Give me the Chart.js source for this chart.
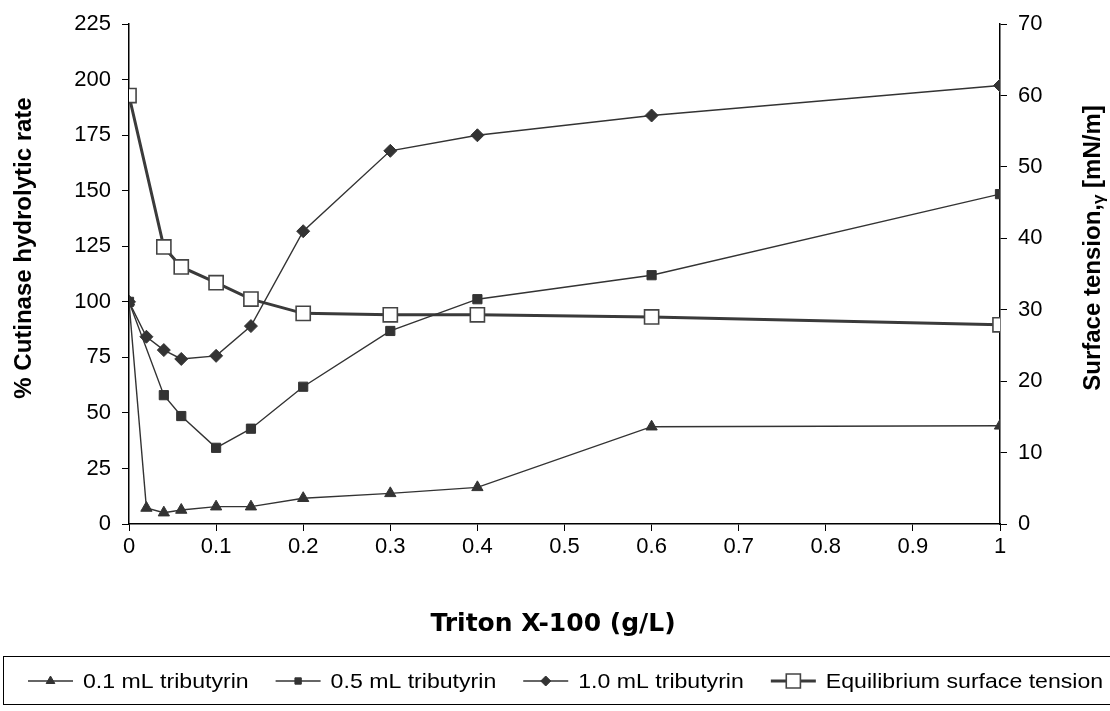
<!DOCTYPE html>
<html>
<head>
<meta charset="utf-8">
<script src="https://cdn.jsdelivr.net/npm/chart.js@4"></script>
<style>
  html, body { margin: 0; padding: 0; background: #fff; }
  #wrap { width: 1110px; height: 711px; }
</style>
</head>
<body>
<div id="wrap"><canvas id="canvas" width="1110" height="711"></canvas></div>
<script>
// Triton X-100 concentration (g/L) for each series
var conc01 = [0, 0.02, 0.04, 0.06, 0.1, 0.14, 0.2, 0.3, 0.4, 0.6, 1];
var rate01 = [100, 7.2, 5.1, 6.3, 7.8, 7.8, 11.6, 13.8, 16.5, 43.8, 44.2];

var conc05 = [0, 0.04, 0.06, 0.1, 0.14, 0.2, 0.3, 0.4, 0.6, 1];
var rate05 = [100, 58, 48.6, 34.3, 42.9, 61.8, 86.9, 101.2, 112, 148.5];

var conc10 = [0, 0.02, 0.04, 0.06, 0.1, 0.14, 0.2, 0.3, 0.4, 0.6, 1];
var rate10 = [100, 84.3, 78.3, 74.3, 75.7, 89.1, 131.8, 168, 175, 183.9, 197.4];

var concST = [0, 0.04, 0.06, 0.1, 0.14, 0.2, 0.3, 0.4, 0.6, 1];
var tension = [60, 38.8, 36.0, 33.8, 31.5, 29.5, 29.3, 29.3, 29.0, 27.9];

var seriesNames = ['0.1 mL tributyrin', '0.5 mL tributyrin', '1.0 mL tributyrin', 'Equilibrium surface tension'];
var xTitle = 'Triton X-100 (g/L)';
var yTitle = '% Cutinase hydrolytic rate';

function pairs(xs, ys) {
    return xs.map(function (x, i) { return { x: x, y: ys[i] }; });
}

var ink = '#333333';
var font = '"Liberation Sans", Arial, sans-serif';

// axis titles + legend drawn on the canvas
var extras = {
    id: 'extras',
    afterDraw: function (chart) {
        var ctx = chart.ctx;
        var cy = 248;

        // left title
        ctx.save();
        ctx.translate(24, cy);
        ctx.rotate(-Math.PI / 2);
        ctx.fillStyle = '#000';
        ctx.textBaseline = 'middle';
        ctx.textAlign = 'center';
        ctx.font = 'bold 24px ' + font;
        ctx.fillText(yTitle, 0, 0);
        ctx.restore();

        // right title, reads bottom to top, gamma as subscript
        ctx.save();
        ctx.translate(1093, cy);
        ctx.rotate(-Math.PI / 2);
        ctx.fillStyle = '#000';
        ctx.textBaseline = 'middle';
        ctx.textAlign = 'left';
        var a = 'Surface tension,', b = '\u03B3', c = ' [mN/m]';
        ctx.font = 'bold 24px ' + font;
        var wa = ctx.measureText(a).width;
        var wc = ctx.measureText(c).width;
        ctx.font = 'bold 17px ' + font;
        var wb = ctx.measureText(b).width;
        var sx = -(wa + wb + wc) / 2;
        ctx.font = 'bold 24px ' + font;
        ctx.fillText(a, sx, 0);
        ctx.font = 'bold 17px ' + font;
        ctx.fillText(b, sx + wa, 6);
        ctx.font = 'bold 24px ' + font;
        ctx.fillText(c, sx + wa + wb, 0);
        ctx.restore();

        // x title
        ctx.save();
        ctx.fillStyle = '#000';
        ctx.textBaseline = 'alphabetic';
        ctx.textAlign = 'center';
        ctx.font = 'bold 25px "DejaVu Sans", Verdana, sans-serif';
        ctx.fillText(xTitle, 553, 631);
        ctx.restore();

        // legend box
        ctx.save();
        ctx.strokeStyle = '#000';
        ctx.lineWidth = 1;
        ctx.strokeRect(3.5, 656.5, 1120, 48);
        ctx.font = '21px ' + font;
        ctx.textBaseline = 'middle';
        ctx.textAlign = 'left';
        var lx = 28, ly = 681, stretch = 1.1;
        chart.data.datasets.forEach(function (ds) {
            ctx.strokeStyle = ds.borderColor;
            ctx.lineWidth = ds.borderWidth;
            ctx.beginPath();
            ctx.moveTo(lx, ly);
            ctx.lineTo(lx + 45, ly);
            ctx.stroke();
            ctx.fillStyle = ds.pointBackgroundColor;
            ctx.strokeStyle = ds.pointBorderColor;
            ctx.lineWidth = ds.pointBorderWidth;
            Chart.helpers.drawPoint(ctx, { pointStyle: ds.pointStyle, radius: ds.legendRadius, rotation: 0, borderWidth: ds.pointBorderWidth }, lx + 22.5, ly);
            ctx.fillStyle = '#000';
            var tx = lx + 55;
            ctx.save();
            ctx.translate(tx, ly + 1);
            ctx.scale(stretch, 1);
            ctx.fillText(ds.label, 0, 0);
            ctx.restore();
            lx = tx + ctx.measureText(ds.label).width * stretch + 27;
        });
        ctx.restore();
    }
};

const ctx = document.getElementById('canvas').getContext('2d');
const myChart = new Chart(ctx, {
    type: 'line',
    data: {
        datasets: [{
            label: seriesNames[0],
            data: pairs(conc01, rate01),
            yAxisID: 'y',
            borderColor: ink,
            borderWidth: 1.4,
            pointStyle: 'triangle',
            pointRadius: 6.5,
            legendRadius: 5,
            pointBackgroundColor: ink,
            pointBorderColor: ink,
            pointBorderWidth: 1
        }, {
            label: seriesNames[1],
            data: pairs(conc05, rate05),
            yAxisID: 'y',
            borderColor: ink,
            borderWidth: 1.4,
            pointStyle: 'rect',
            pointRadius: 6.5,
            legendRadius: 4.5,
            pointBackgroundColor: ink,
            pointBorderColor: ink,
            pointBorderWidth: 1
        }, {
            label: seriesNames[2],
            data: pairs(conc10, rate10),
            yAxisID: 'y',
            borderColor: ink,
            borderWidth: 1.4,
            pointStyle: 'rectRot',
            pointRadius: 6.5,
            legendRadius: 5,
            pointBackgroundColor: ink,
            pointBorderColor: ink,
            pointBorderWidth: 1
        }, {
            label: seriesNames[3],
            data: pairs(concST, tension),
            yAxisID: 'y2',
            borderColor: '#3a3a3a',
            borderWidth: 3,
            pointStyle: 'rect',
            pointRadius: 10,
            legendRadius: 10,
            pointBackgroundColor: '#ffffff',
            pointBorderColor: '#444444',
            pointBorderWidth: 1.6
        }]
    },
    options: {
        responsive: false,
        animation: false,
        layout: { padding: { left: 0, right: 3, top: 24, bottom: 93 } },
        plugins: {
            legend: { display: false },
            tooltip: { enabled: false }
        },
        scales: {
            x: {
                type: 'linear',
                min: 0,
                max: 1,
                afterFit: function (s) { s.height = 94; },
                ticks: {
                    stepSize: 0.1,
                    color: '#000',
                    font: { family: font, size: 22 },
                    padding: 3,
                    maxRotation: 0,
                    callback: function (v) { return String(Math.round(v * 10) / 10); }
                },
                grid: { drawOnChartArea: false, color: '#000', tickLength: 7 },
                border: { color: '#000', width: 1.5 }
            },
            y: {
                position: 'left',
                min: 0,
                max: 225,
                afterFit: function (s) { s.width = 129; },
                ticks: {
                    stepSize: 25,
                    color: '#000',
                    font: { family: font, size: 22 },
                    padding: 11
                },
                grid: { drawOnChartArea: false, color: '#000', tickLength: 7 },
                border: { color: '#000', width: 1.5 }
            },
            y2: {
                position: 'right',
                min: 0,
                max: 70,
                afterFit: function (s) { s.width = 107; },
                ticks: {
                    stepSize: 10,
                    color: '#000',
                    font: { family: font, size: 22 },
                    padding: 11
                },
                grid: { drawOnChartArea: false, color: '#000', tickLength: 7 },
                border: { color: '#000', width: 1.5 }
            }
        }
    },
    plugins: [extras]
});
</script>
</body>
</html>
